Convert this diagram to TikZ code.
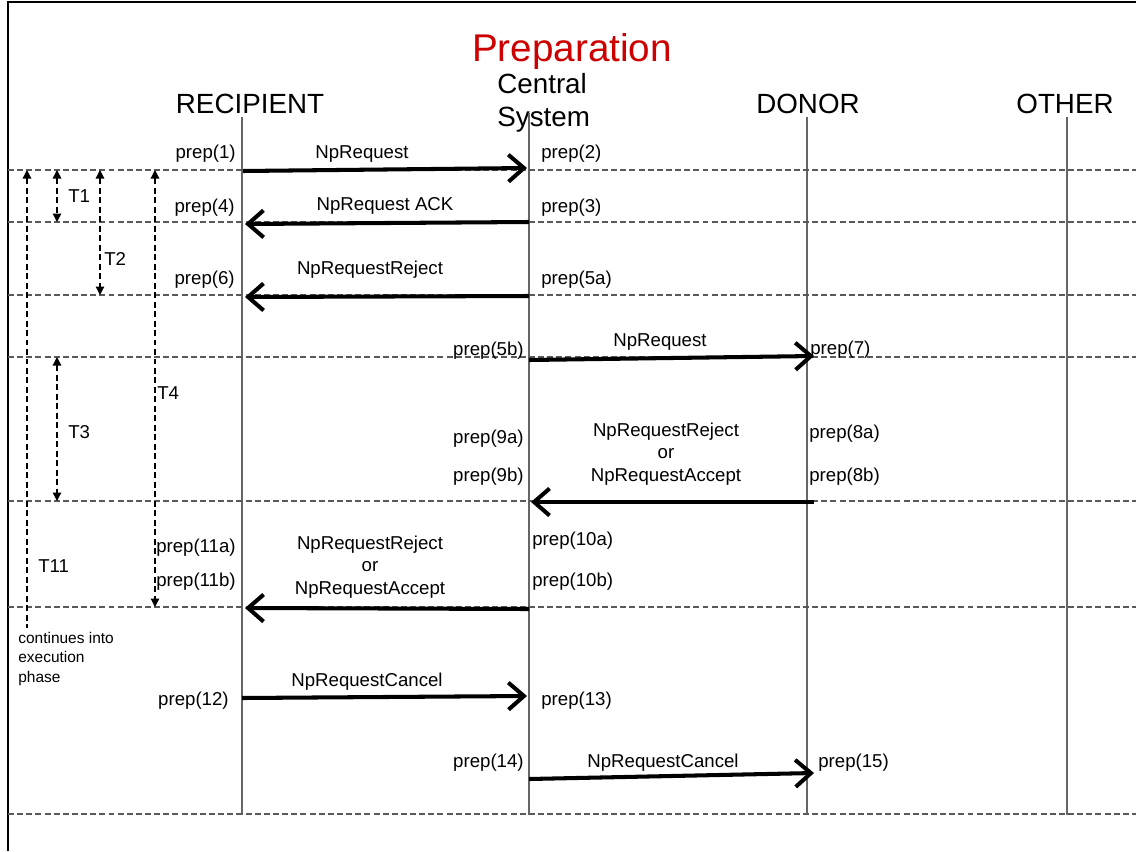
\documentclass[tikz,border=0pt]{standalone}
\usepackage{fontspec}
\setmainfont{Liberation Sans}
\usetikzlibrary{arrows.meta}
\definecolor{prepred}{RGB}{204,0,0}
\tikzset{
  lifeline/.style={draw=black!60, line width=0.8pt},
  sepline/.style={draw=black!65, line width=0.6pt, dash pattern=on 3.4pt off 1.8pt},
  msg/.style={line width=2.3pt, -{Straight Barb[length=3.1mm,width=5.4mm]}},
  timer/.style={line width=0.7pt, dash pattern=on 3.4pt off 2pt},
  lbl/.style={font=\fontsize{10.6}{12.8}\selectfont, inner sep=0pt},
  head/.style={font=\fontsize{15.8}{19}\selectfont, inner sep=0pt, anchor=base},
  note/.style={font=\fontsize{8.8}{11}\selectfont, inner sep=0pt, align=left}
}
\begin{document}
\begin{tikzpicture}[x=0.2mm, y=-0.2mm]
  \useasboundingbox (0,0) rectangle (1136,851);
  % frame
  \draw[line width=1.6pt] (8,851) -- (8,2) -- (1136,2);

  % titles
  \node[head, font=\fontsize{22}{26}\selectfont, text=prepred] (title) at (572,61) {Preparation};
  \node[head] (rec) at (250,113) {RECIPIENT};
  \node[head, anchor=base west, align=left] (cen) at (497,126) {Central\\[-0.5pt]System};
  \node[head] (don) at (808,113) {DONOR};
  \node[head] (oth) at (1065,113) {OTHER};

  % lifelines
  \foreach \n/\x/\t in {rec/242/117, cen/529/113, don/807/117, oth/1067/117}{
    \coordinate (\n T) at (\x,\t);
    \coordinate (\n B) at (\x,815);
    \draw[lifeline] (\n T) -- (\n B);
  }

  % phase separators
  \foreach \y in {170,222,295,357,501,607,814}
    \draw[sepline] (8,\y) -- (1136,\y);

  % message ends
  \coordinate (m1s) at (243,171); \coordinate (m1e) at (527,168);
  \coordinate (m2s) at (529,222); \coordinate (m2e) at (245,224);
  \coordinate (m3s) at (529,296); \coordinate (m3e) at (245,297);
  \coordinate (m4s) at (529,360); \coordinate (m4e) at (814,356);
  \coordinate (m5s) at (814,502); \coordinate (m5e) at (531,502);
  \coordinate (m6s) at (529,609); \coordinate (m6e) at (245,608);
  \coordinate (m7s) at (242,698); \coordinate (m7e) at (527,696);
  \coordinate (m8s) at (529,779); \coordinate (m8e) at (814,773);
  \foreach \m in {1,...,8}
    \draw[msg] (m\m s) -- (m\m e);

  % message names
  \node[lbl, anchor=base] (n1) at (362,158) {NpRequest};
  \node[lbl, anchor=base] (n2) at (385,210) {NpRequest ACK};
  \node[lbl, anchor=base] (n3) at (370,274) {NpRequestReject};
  \node[lbl, anchor=base] (n4) at (660,346) {NpRequest};
  \node[lbl, align=center] (n5) at (666,454) {NpRequestReject\\or\\NpRequestAccept};
  \node[lbl, align=center] (n6) at (370,567) {NpRequestReject\\or\\NpRequestAccept};
  \node[lbl, anchor=base] (n7) at (367,686) {NpRequestCancel};
  \node[lbl, anchor=base] (n8) at (663,767) {NpRequestCancel};

  % step labels
  \node[lbl, anchor=base east] (p1) at (236,158) {prep(1)};
  \node[lbl, anchor=base west] (p2) at (541,158) {prep(2)};
  \node[lbl, anchor=base east] (p4) at (235,212) {prep(4)};
  \node[lbl, anchor=base west] (p3) at (541,212) {prep(3)};
  \node[lbl, anchor=base east] (p6) at (235,284) {prep(6)};
  \node[lbl, anchor=base west] (p5a) at (541,284) {prep(5a)};
  \node[lbl, anchor=base east] (p5b) at (524,355) {prep(5b)};
  \node[lbl, anchor=base west] (p7) at (810,354) {prep(7)};
  \node[lbl, anchor=base east] (p9a) at (524,443) {prep(9a)};
  \node[lbl, anchor=base east] (p9b) at (524,481) {prep(9b)};
  \node[lbl, anchor=base west] (p8a) at (809,438) {prep(8a)};
  \node[lbl, anchor=base west] (p8b) at (809,481) {prep(8b)};
  \node[lbl, anchor=base east] (p11a) at (236,552) {prep(11a)};
  \node[lbl, anchor=base east] (p11b) at (236,586) {prep(11b)};
  \node[lbl, anchor=base west] (p10a) at (532,545) {prep(10a)};
  \node[lbl, anchor=base west] (p10b) at (532,586) {prep(10b)};
  \node[lbl, anchor=base east] (p12) at (229,705) {prep(12)};
  \node[lbl, anchor=base west] (p13) at (541,705) {prep(13)};
  \node[lbl, anchor=base east] (p14) at (524,767) {prep(14)};
  \node[lbl, anchor=base west] (p15) at (818,767) {prep(15)};

  % timers
  \coordinate (t11a) at (27,170); \coordinate (t11b) at (27,628);
  \coordinate (t1a) at (57,170);  \coordinate (t1b) at (57,222);
  \coordinate (t2a) at (100,170); \coordinate (t2b) at (100,295);
  \coordinate (t3a) at (57,357);  \coordinate (t3b) at (57,501);
  \coordinate (t4a) at (155,170); \coordinate (t4b) at (155,607);
  \draw[timer, {Triangle[length=1.7mm,width=1.7mm]}-] (t11a) -- (t11b);
  \foreach \t in {1,2,3,4}
    \draw[timer, {Triangle[length=1.7mm,width=1.7mm]}-{Triangle[length=1.7mm,width=1.7mm]}] (t\t a) -- (t\t b);
  \node[lbl, anchor=base west] (T1) at (68,202) {T1};
  \node[lbl, anchor=base west] (T2) at (104,265) {T2};
  \node[lbl, anchor=base west] (T3) at (68,438) {T3};
  \node[lbl, anchor=base west] (T4) at (157,399) {T4};
  \node[lbl, anchor=base west] (T11) at (38,572) {T11};
  \node[note, anchor=north west] (cont) at (18,632) {continues into\\execution\\phase};
\end{tikzpicture}
\end{document}
